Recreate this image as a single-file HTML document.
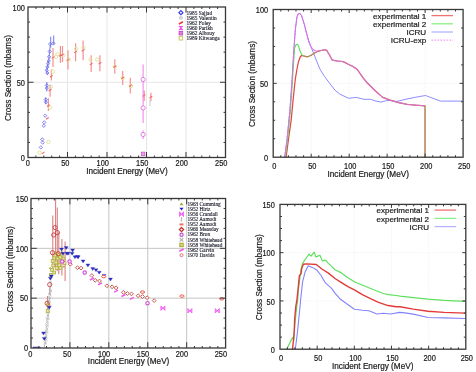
<!DOCTYPE html>
<html><head><meta charset="utf-8"><style>
html,body{margin:0;padding:0;background:#fff;width:476px;height:372px;overflow:hidden}
svg{display:block;filter:blur(0.35px)}
</style></head><body>
<svg width="476" height="372" viewBox="0 0 476 372">
<rect width="476" height="372" fill="#fff"/>
<line x1="67.5" y1="7" x2="67.5" y2="157.5" stroke="#e6e6e6" stroke-width="1"/>
<line x1="107" y1="7" x2="107" y2="157.5" stroke="#e6e6e6" stroke-width="1"/>
<line x1="146.5" y1="7" x2="146.5" y2="157.5" stroke="#e6e6e6" stroke-width="1"/>
<line x1="186" y1="7" x2="186" y2="157.5" stroke="#e6e6e6" stroke-width="1"/>
<line x1="28" y1="82.25" x2="225.5" y2="82.25" stroke="#e6e6e6" stroke-width="1"/>
<line x1="53.0" y1="48.1" x2="53.0" y2="66.9" stroke="#f49090" stroke-width="1.2"/>
<line x1="51.4" y1="69.6" x2="51.4" y2="80.5" stroke="#f49090" stroke-width="1.2"/>
<line x1="60.4" y1="46" x2="60.4" y2="62.9" stroke="#f49090" stroke-width="1.2"/>
<line x1="62.5" y1="46" x2="62.5" y2="62" stroke="#f49090" stroke-width="1.2"/>
<line x1="68" y1="50.3" x2="68" y2="69.6" stroke="#f49090" stroke-width="1.2"/>
<line x1="75.6" y1="43.2" x2="75.6" y2="61.2" stroke="#f49090" stroke-width="1.2"/>
<line x1="83.1" y1="40.5" x2="83.1" y2="60.3" stroke="#f49090" stroke-width="1.2"/>
<line x1="91.2" y1="55.3" x2="91.2" y2="72.1" stroke="#f49090" stroke-width="1.2"/>
<line x1="99.9" y1="55.3" x2="99.9" y2="71.3" stroke="#f49090" stroke-width="1.2"/>
<line x1="114.8" y1="59.3" x2="114.8" y2="73.6" stroke="#f49090" stroke-width="1.2"/>
<line x1="122.7" y1="71.1" x2="122.7" y2="85" stroke="#f49090" stroke-width="1.2"/>
<line x1="130.3" y1="77.8" x2="130.3" y2="93.4" stroke="#f49090" stroke-width="1.2"/>
<line x1="144.2" y1="90.4" x2="144.2" y2="101" stroke="#f49090" stroke-width="1.2"/>
<line x1="150.9" y1="92.8" x2="150.9" y2="101.3" stroke="#f49090" stroke-width="1.2"/>
<line x1="50.1" y1="84.7" x2="50.1" y2="96.8" stroke="#f49090" stroke-width="1.2"/>
<line x1="48.4" y1="98.2" x2="48.4" y2="111" stroke="#f49090" stroke-width="1.2"/>
<line x1="150" y1="99.4" x2="150" y2="106" stroke="#c8c8c8" stroke-width="1"/>
<line x1="143.1" y1="64.4" x2="143.1" y2="122.9" stroke="#f080f0" stroke-width="1.05"/>
<line x1="143.1" y1="130.4" x2="143.1" y2="138.9" stroke="#f080f0" stroke-width="1.05"/>
<circle cx="143.1" cy="79.5" r="2.1" fill="#fff" stroke="#e070e0" stroke-width="0.9"/>
<circle cx="143.1" cy="107.9" r="2.1" fill="#fff" stroke="#e070e0" stroke-width="0.9"/>
<circle cx="143.1" cy="134.5" r="2.1" fill="#fff" stroke="#e070e0" stroke-width="0.9"/>
<rect x="141.3" y="152.1" width="3.6" height="3.6" fill="#f0a0f0" stroke="#c050c0" stroke-width="0.7"/>
<line x1="50.7" y1="36.7" x2="50.7" y2="47.4" stroke="#8080f0" stroke-width="1.1"/>
<line x1="53.7" y1="35.4" x2="53.7" y2="44.8" stroke="#8080f0" stroke-width="1.1"/>
<line x1="46.8" y1="82" x2="46.8" y2="91.5" stroke="#8080f0" stroke-width="1.1"/>
<line x1="45.7" y1="97.5" x2="45.7" y2="104.2" stroke="#8080f0" stroke-width="1.1"/>
<polyline points="47.4,75 46.7,70.3 47.4,66.9 48.1,63.6 48.7,60.9 49.1,56.8 49.7,51.5 50.1,46" fill="none" stroke="#8a8af0" stroke-width="1.1"/>
<path d="M40.8 145.70000000000002l1.6 1.7l-1.6 1.7l-1.6 -1.7z" fill="none" stroke="#6a6ae8" stroke-width="0.8"/>
<path d="M42.3 137.70000000000002l1.6 1.7l-1.6 1.7l-1.6 -1.7z" fill="none" stroke="#6a6ae8" stroke-width="0.8"/>
<path d="M42.7 140.9l1.6 1.7l-1.6 1.7l-1.6 -1.7z" fill="none" stroke="#6a6ae8" stroke-width="0.8"/>
<path d="M43.8 124.1l1.6 1.7l-1.6 1.7l-1.6 -1.7z" fill="none" stroke="#6a6ae8" stroke-width="0.8"/>
<path d="M44.3 120.7l1.6 1.7l-1.6 1.7l-1.6 -1.7z" fill="none" stroke="#6a6ae8" stroke-width="0.8"/>
<path d="M45.2 114.0l1.6 1.7l-1.6 1.7l-1.6 -1.7z" fill="none" stroke="#6a6ae8" stroke-width="0.8"/>
<path d="M45.7 97.8l1.6 1.7l-1.6 1.7l-1.6 -1.7z" fill="none" stroke="#6a6ae8" stroke-width="0.8"/>
<path d="M45.9 100.5l1.6 1.7l-1.6 1.7l-1.6 -1.7z" fill="none" stroke="#6a6ae8" stroke-width="0.8"/>
<path d="M46.8 83.7l1.6 1.7l-1.6 1.7l-1.6 -1.7z" fill="none" stroke="#6a6ae8" stroke-width="0.8"/>
<path d="M46.8 86.39999999999999l1.6 1.7l-1.6 1.7l-1.6 -1.7z" fill="none" stroke="#6a6ae8" stroke-width="0.8"/>
<path d="M47.4 71.3l1.6 1.7l-1.6 1.7l-1.6 -1.7z" fill="none" stroke="#6a6ae8" stroke-width="0.8"/>
<path d="M46.7 68.6l1.6 1.7l-1.6 1.7l-1.6 -1.7z" fill="none" stroke="#6a6ae8" stroke-width="0.8"/>
<path d="M47.4 65.2l1.6 1.7l-1.6 1.7l-1.6 -1.7z" fill="none" stroke="#6a6ae8" stroke-width="0.8"/>
<path d="M48.1 61.9l1.6 1.7l-1.6 1.7l-1.6 -1.7z" fill="none" stroke="#6a6ae8" stroke-width="0.8"/>
<path d="M48.7 59.199999999999996l1.6 1.7l-1.6 1.7l-1.6 -1.7z" fill="none" stroke="#6a6ae8" stroke-width="0.8"/>
<path d="M49.1 55.099999999999994l1.6 1.7l-1.6 1.7l-1.6 -1.7z" fill="none" stroke="#6a6ae8" stroke-width="0.8"/>
<path d="M49.7 49.8l1.6 1.7l-1.6 1.7l-1.6 -1.7z" fill="none" stroke="#6a6ae8" stroke-width="0.8"/>
<path d="M50.1 42.4l1.6 1.7l-1.6 1.7l-1.6 -1.7z" fill="none" stroke="#6a6ae8" stroke-width="0.8"/>
<path d="M53.4 41.699999999999996l1.6 1.7l-1.6 1.7l-1.6 -1.7z" fill="none" stroke="#6a6ae8" stroke-width="0.8"/>
<circle cx="52.8" cy="71.6" r="1.7" fill="none" stroke="#e0e09a" stroke-width="0.9"/>
<circle cx="56.1" cy="56.8" r="1.7" fill="none" stroke="#e0e09a" stroke-width="0.9"/>
<circle cx="57.6" cy="54.3" r="1.7" fill="none" stroke="#e0e09a" stroke-width="0.9"/>
<circle cx="63.3" cy="55.3" r="1.7" fill="none" stroke="#e0e09a" stroke-width="0.9"/>
<circle cx="68.8" cy="59.5" r="1.7" fill="none" stroke="#e0e09a" stroke-width="0.9"/>
<circle cx="76.2" cy="48.9" r="1.7" fill="none" stroke="#e0e09a" stroke-width="0.9"/>
<circle cx="83.5" cy="47.7" r="1.7" fill="none" stroke="#e0e09a" stroke-width="0.9"/>
<circle cx="90.5" cy="59.5" r="1.7" fill="none" stroke="#e0e09a" stroke-width="0.9"/>
<circle cx="97.2" cy="59.5" r="1.7" fill="none" stroke="#e0e09a" stroke-width="0.9"/>
<circle cx="114.8" cy="66.6" r="1.7" fill="none" stroke="#e0e09a" stroke-width="0.9"/>
<circle cx="122.7" cy="77.8" r="1.7" fill="none" stroke="#e0e09a" stroke-width="0.9"/>
<circle cx="131" cy="86" r="1.7" fill="none" stroke="#e0e09a" stroke-width="0.9"/>
<circle cx="50.8" cy="86.7" r="1.7" fill="none" stroke="#e0e09a" stroke-width="0.9"/>
<circle cx="50.1" cy="107.6" r="1.7" fill="none" stroke="#e0e09a" stroke-width="0.9"/>
<circle cx="48.4" cy="142" r="1.7" fill="none" stroke="#e0e09a" stroke-width="0.9"/>
<circle cx="39.6" cy="152.5" r="1.7" fill="none" stroke="#e0e09a" stroke-width="0.9"/>
<path d="M51.6 58.4L54.4 56.6" stroke="#f06a6a" stroke-width="1.1"/>
<path d="M50.0 77.2L52.8 75.39999999999999" stroke="#f06a6a" stroke-width="1.1"/>
<path d="M59.0 56.199999999999996L61.8 54.4" stroke="#f06a6a" stroke-width="1.1"/>
<path d="M61.1 55.9L63.9 54.1" stroke="#f06a6a" stroke-width="1.1"/>
<path d="M66.6 60.699999999999996L69.4 58.9" stroke="#f06a6a" stroke-width="1.1"/>
<path d="M74.19999999999999 52.9L77.0 51.1" stroke="#f06a6a" stroke-width="1.1"/>
<path d="M81.69999999999999 51.199999999999996L84.5 49.4" stroke="#f06a6a" stroke-width="1.1"/>
<path d="M89.8 64.9L92.60000000000001 63.1" stroke="#f06a6a" stroke-width="1.1"/>
<path d="M98.5 64.10000000000001L101.30000000000001 62.300000000000004" stroke="#f06a6a" stroke-width="1.1"/>
<path d="M113.39999999999999 67.5L116.2 65.69999999999999" stroke="#f06a6a" stroke-width="1.1"/>
<path d="M121.3 78.7L124.10000000000001 76.89999999999999" stroke="#f06a6a" stroke-width="1.1"/>
<path d="M128.9 86.60000000000001L131.70000000000002 84.8" stroke="#f06a6a" stroke-width="1.1"/>
<path d="M142.6 96.4L145.4 94.6" stroke="#f06a6a" stroke-width="1.1"/>
<path d="M149.5 98.0L152.3 96.19999999999999" stroke="#f06a6a" stroke-width="1.1"/>
<path d="M48.7 91.0L51.5 89.19999999999999" stroke="#f06a6a" stroke-width="1.1"/>
<path d="M47.0 106.5L49.8 104.69999999999999" stroke="#f06a6a" stroke-width="1.1"/>
<path d="M46.0 119.30000000000001L48.8 117.5" stroke="#f06a6a" stroke-width="1.1"/>
<path d="M41.800000000000004 153.70000000000002L44.6 151.9" stroke="#f06a6a" stroke-width="1.1"/>
<path d="M180.9 10.7l2 2l-2 2l-2 -2z" fill="none" stroke="#3a3ae0" stroke-width="1.2"/>
<text x="186.6" y="14.5" font-family='"Liberation Serif", serif' font-size="5.4" fill="#1a1a2a" stroke="#1a1a2a" stroke-width="0.12">1985 Sajjad</text>
<circle cx="180.9" cy="17.82" r="1.7" fill="#d4d4d4" stroke="#c8c8c8" stroke-width="0.6"/>
<text x="186.6" y="19.62" font-family='"Liberation Serif", serif' font-size="5.4" fill="#1a1a2a" stroke="#1a1a2a" stroke-width="0.12">1965 Valentin</text>
<path d="M178.9 24.139999999999997L182.9 21.74" stroke="#f03030" stroke-width="1.6"/>
<text x="186.6" y="24.74" font-family='"Liberation Serif", serif' font-size="5.4" fill="#1a1a2a" stroke="#1a1a2a" stroke-width="0.12">1962 Foley</text>
<path d="M178.8 26.36H183.0L178.8 29.759999999999998H183.0z" fill="#f040f0" stroke="#f040f0" stroke-width="0.6"/>
<text x="186.6" y="29.86" font-family='"Liberation Serif", serif' font-size="5.4" fill="#1a1a2a" stroke="#1a1a2a" stroke-width="0.12">1960 Parikh</text>
<rect x="179.1" y="31.38" width="3.6" height="3.6" fill="#e080e0" stroke="#c040c0" stroke-width="0.8"/>
<text x="186.6" y="34.98" font-family='"Liberation Serif", serif' font-size="5.4" fill="#1a1a2a" stroke="#1a1a2a" stroke-width="0.12">1962 Albouy</text>
<rect x="179.20000000000002" y="36.599999999999994" width="3.4" height="3.4" fill="none" stroke="#c8c860" stroke-width="1"/>
<text x="186.6" y="40.1" font-family='"Liberation Serif", serif' font-size="5.4" fill="#1a1a2a" stroke="#1a1a2a" stroke-width="0.12">1989 Kitwanga</text>
<path d="M35.9 157.5v-2M35.9 7v2M43.8 157.5v-2M43.8 7v2M51.7 157.5v-2M51.7 7v2M59.6 157.5v-2M59.6 7v2M67.5 157.5v-5.5M67.5 7v5.5M75.4 157.5v-2M75.4 7v2M83.3 157.5v-2M83.3 7v2M91.2 157.5v-2M91.2 7v2M99.1 157.5v-2M99.1 7v2M107 157.5v-5.5M107 7v5.5M114.9 157.5v-2M114.9 7v2M122.8 157.5v-2M122.8 7v2M130.7 157.5v-2M130.7 7v2M138.6 157.5v-2M138.6 7v2M146.5 157.5v-5.5M146.5 7v5.5M154.4 157.5v-2M154.4 7v2M162.3 157.5v-2M162.3 7v2M170.2 157.5v-2M170.2 7v2M178.1 157.5v-2M178.1 7v2M186 157.5v-5.5M186 7v5.5M193.9 157.5v-2M193.9 7v2M201.8 157.5v-2M201.8 7v2M209.7 157.5v-2M209.7 7v2M217.6 157.5v-2M217.6 7v2M28 142.45h2M225.5 142.45h-2M28 127.4h2M225.5 127.4h-2M28 112.35h2M225.5 112.35h-2M28 97.3h2M225.5 97.3h-2M28 82.25h5.5M225.5 82.25h-5.5M28 67.2h2M225.5 67.2h-2M28 52.15h2M225.5 52.15h-2M28 37.1h2M225.5 37.1h-2M28 22.05h2M225.5 22.05h-2" stroke="#383838" stroke-width="1" fill="none"/>
<rect x="28" y="7" width="197.5" height="150.5" fill="none" stroke="#383838" stroke-width="1.3"/>
<text transform="translate(29.9 166.2) scale(0.88 1)" font-family='"Liberation Sans", sans-serif' font-size="8.4" text-anchor="end" fill="#1a1a1a" stroke="#1a1a1a" stroke-width="0.2">0</text>
<text transform="translate(69.4 166.2) scale(0.88 1)" font-family='"Liberation Sans", sans-serif' font-size="8.4" text-anchor="end" fill="#1a1a1a" stroke="#1a1a1a" stroke-width="0.2">50</text>
<text transform="translate(108.9 166.2) scale(0.88 1)" font-family='"Liberation Sans", sans-serif' font-size="8.4" text-anchor="end" fill="#1a1a1a" stroke="#1a1a1a" stroke-width="0.2">100</text>
<text transform="translate(148.4 166.2) scale(0.88 1)" font-family='"Liberation Sans", sans-serif' font-size="8.4" text-anchor="end" fill="#1a1a1a" stroke="#1a1a1a" stroke-width="0.2">150</text>
<text transform="translate(187.9 166.2) scale(0.88 1)" font-family='"Liberation Sans", sans-serif' font-size="8.4" text-anchor="end" fill="#1a1a1a" stroke="#1a1a1a" stroke-width="0.2">200</text>
<text transform="translate(227.4 166.2) scale(0.88 1)" font-family='"Liberation Sans", sans-serif' font-size="8.4" text-anchor="end" fill="#1a1a1a" stroke="#1a1a1a" stroke-width="0.2">250</text>
<text transform="translate(24.9 161.3) scale(0.88 1)" font-family='"Liberation Sans", sans-serif' font-size="8.4" text-anchor="end" fill="#1a1a1a" stroke="#1a1a1a" stroke-width="0.2">0</text>
<text transform="translate(24.9 86.05) scale(0.88 1)" font-family='"Liberation Sans", sans-serif' font-size="8.4" text-anchor="end" fill="#1a1a1a" stroke="#1a1a1a" stroke-width="0.2">50</text>
<text transform="translate(24.9 10.8) scale(0.88 1)" font-family='"Liberation Sans", sans-serif' font-size="8.4" text-anchor="end" fill="#1a1a1a" stroke="#1a1a1a" stroke-width="0.2">100</text>
<text transform="translate(10.8 78) rotate(-90)" font-family='"Liberation Sans", sans-serif' font-size="8.2" text-anchor="middle" fill="#1a1a1a" stroke="#1a1a1a" stroke-width="0.2">Cross Section (mbarns)</text>
<text x="127" y="173.7" font-family='"Liberation Sans", sans-serif' font-size="8.2" text-anchor="middle" fill="#1a1a1a" stroke="#1a1a1a" stroke-width="0.2">Incident Energy (MeV)</text>
<line x1="311.18" y1="9.5" x2="311.18" y2="157.2" stroke="#ebebeb" stroke-width="0.8" stroke-dasharray="1,1.5"/>
<line x1="349.16" y1="9.5" x2="349.16" y2="157.2" stroke="#ebebeb" stroke-width="0.8" stroke-dasharray="1,1.5"/>
<line x1="387.14" y1="9.5" x2="387.14" y2="157.2" stroke="#ebebeb" stroke-width="0.8" stroke-dasharray="1,1.5"/>
<line x1="425.12" y1="9.5" x2="425.12" y2="157.2" stroke="#ebebeb" stroke-width="0.8" stroke-dasharray="1,1.5"/>
<line x1="273.2" y1="83.35" x2="463.1" y2="83.35" stroke="#ebebeb" stroke-width="0.8" stroke-dasharray="1,1.5"/>
<polyline points="284.7,157.2 287,139.7 289.8,111.5 292.1,80 293.7,52 295.3,30 296.9,17 298.4,13.6 300,13.5 301.5,15.5 304.2,24 306.5,33 308.5,40 311.5,48.1 314.7,56.1 317.9,64.2 320.3,69.8 324.4,76.3 329.2,82.7 334.8,90 339.7,94 345,96.6 348.8,98.3 352.5,97.8 356.3,97.4 363.9,99.3 370.5,99.3 375,100.8 380.8,102.1 386.5,100.6 390,100.5 396.5,101.5 405,99.4 415.8,97.2 425.5,95.5 440.5,101.1 462,101.1" fill="none" stroke="#8c8cff" stroke-width="1.0" stroke-linejoin="round" stroke-linecap="round"/>
<polyline points="286.1,157.2 288.4,139.7 291.2,120 293.5,96 295.2,80 296.8,70 298.4,62 300.2,57 301.8,55.3 304.5,56.2 307.4,56.8 309.5,56 311.5,55.1 314.7,52.9 317.9,51.3 321.1,50.5 325.2,49.6 326.8,50.5 329.2,54.5 332.4,60.2 337.3,61 343.2,61.6 348.8,64.5 353,66.5 357.3,69.5 362.9,77.6 367.6,83.3 375.2,90.8 382.7,97.4 390.2,100.2 398.6,102.6 407.2,104.3 415.8,105.2 425,105.8 425,157.2" fill="none" stroke="#e44444" stroke-width="1.25" stroke-linejoin="round" stroke-linecap="round"/>
<polyline points="285.3,157.2 287.6,139 290.3,112 292.4,82 293.6,62 294.6,48 296.2,44.5 297.5,44.3 298.7,46.5 300.2,51.6 301.8,54.6 303.2,55.6" fill="none" stroke="#62e062" stroke-width="1.15" stroke-linejoin="round" stroke-linecap="round"/>
<polyline points="303.2,55.6 307.4,56.8 309.5,56 311.5,55.1 314.7,52.9 317.9,51.3 321.1,50.5 325.2,49.6 326.8,50.5 329.2,54.5 332.4,60.2 337.3,61 343.2,61.6 348.8,64.5 353,66.5 357.3,69.5 362.9,77.6 367.6,83.3 375.2,90.8 382.7,97.4 390.2,100.2 398.6,102.6 407.2,104.3 415.8,105.2 425,105.8 425,157.2" fill="none" stroke="#62e062" stroke-width="1.0" stroke-linejoin="round" stroke-linecap="round" stroke-opacity="0.55"/>
<polyline points="284.7,157.2 287,139.7 289.8,111.5 292.1,80 293.7,52 295.3,30 296.9,17 298.4,13.6 300,13.5 301.5,15.5 304.2,24 306.5,33 308.5,41 310.6,46.2 313,49.4 316.3,51.2 318.7,51 321.1,50.5 325.2,49.6 326.8,50.5 329.2,54.5 332.4,60.2 337.3,61 343.2,61.6 348.8,64.5 353,66.5 357.3,69.5 362.9,77.6 367.6,83.3 375.2,90.8 382.7,97.4 390.2,100.2 398.6,102.6 407.2,104.3 415.8,105.2 425,105.8" fill="none" stroke="#e866e4" stroke-width="1.05" stroke-linejoin="round" stroke-linecap="round" stroke-dasharray="2,1.3"/>
<text x="426.2" y="18.7" font-family='"Liberation Sans", sans-serif' font-size="8.1" text-anchor="end" fill="#1a1a1a" stroke="#1a1a1a" stroke-width="0.2">experimental 1</text>
<line x1="431.5" y1="15.6" x2="453" y2="15.6" stroke="#f07070" stroke-width="1.3"/>
<text x="426.2" y="26.9" font-family='"Liberation Sans", sans-serif' font-size="8.1" text-anchor="end" fill="#1a1a1a" stroke="#1a1a1a" stroke-width="0.2">experimental 2</text>
<line x1="431.5" y1="23.8" x2="453" y2="23.8" stroke="#88f088" stroke-width="1.3"/>
<text x="426.2" y="35.1" font-family='"Liberation Sans", sans-serif' font-size="8.1" text-anchor="end" fill="#1a1a1a" stroke="#1a1a1a" stroke-width="0.2">ICRU</text>
<line x1="431.5" y1="32.0" x2="453" y2="32.0" stroke="#b4b4ff" stroke-width="1.3"/>
<text x="426.2" y="43.3" font-family='"Liberation Sans", sans-serif' font-size="8.1" text-anchor="end" fill="#1a1a1a" stroke="#1a1a1a" stroke-width="0.2">ICRU-exp</text>
<line x1="431.5" y1="40.2" x2="453" y2="40.2" stroke="#f0a0f0" stroke-width="1.3" stroke-dasharray="1.6,1.4"/>
<path d="M280.8 157.2v-2M280.8 9.5v2M288.39 157.2v-2M288.39 9.5v2M295.99 157.2v-2M295.99 9.5v2M303.58 157.2v-2M303.58 9.5v2M311.18 157.2v-3.5M311.18 9.5v3.5M318.78 157.2v-2M318.78 9.5v2M326.37 157.2v-2M326.37 9.5v2M333.97 157.2v-2M333.97 9.5v2M341.56 157.2v-2M341.56 9.5v2M349.16 157.2v-3.5M349.16 9.5v3.5M356.76 157.2v-2M356.76 9.5v2M364.35 157.2v-2M364.35 9.5v2M371.95 157.2v-2M371.95 9.5v2M379.54 157.2v-2M379.54 9.5v2M387.14 157.2v-3.5M387.14 9.5v3.5M394.74 157.2v-2M394.74 9.5v2M402.33 157.2v-2M402.33 9.5v2M409.93 157.2v-2M409.93 9.5v2M417.52 157.2v-2M417.52 9.5v2M425.12 157.2v-3.5M425.12 9.5v3.5M432.72 157.2v-2M432.72 9.5v2M440.31 157.2v-2M440.31 9.5v2M447.91 157.2v-2M447.91 9.5v2M455.5 157.2v-2M455.5 9.5v2M273.2 138.74h2M463.1 138.74h-2M273.2 120.27h2M463.1 120.27h-2M273.2 101.81h2M463.1 101.81h-2M273.2 83.35h3.5M463.1 83.35h-3.5M273.2 64.89h2M463.1 64.89h-2M273.2 46.42h2M463.1 46.42h-2M273.2 27.96h2M463.1 27.96h-2" stroke="#383838" stroke-width="1" fill="none"/>
<rect x="273.2" y="9.5" width="189.9" height="147.7" fill="none" stroke="#383838" stroke-width="1.3"/>
<text transform="translate(274.3 168.9) scale(0.88 1)" font-family='"Liberation Sans", sans-serif' font-size="8.4" text-anchor="middle" fill="#1a1a1a" stroke="#1a1a1a" stroke-width="0.2">0</text>
<text transform="translate(312.28 168.9) scale(0.88 1)" font-family='"Liberation Sans", sans-serif' font-size="8.4" text-anchor="middle" fill="#1a1a1a" stroke="#1a1a1a" stroke-width="0.2">50</text>
<text transform="translate(350.26 168.9) scale(0.88 1)" font-family='"Liberation Sans", sans-serif' font-size="8.4" text-anchor="middle" fill="#1a1a1a" stroke="#1a1a1a" stroke-width="0.2">100</text>
<text transform="translate(388.24 168.9) scale(0.88 1)" font-family='"Liberation Sans", sans-serif' font-size="8.4" text-anchor="middle" fill="#1a1a1a" stroke="#1a1a1a" stroke-width="0.2">150</text>
<text transform="translate(426.22 168.9) scale(0.88 1)" font-family='"Liberation Sans", sans-serif' font-size="8.4" text-anchor="middle" fill="#1a1a1a" stroke="#1a1a1a" stroke-width="0.2">200</text>
<text transform="translate(464.2 168.9) scale(0.88 1)" font-family='"Liberation Sans", sans-serif' font-size="8.4" text-anchor="middle" fill="#1a1a1a" stroke="#1a1a1a" stroke-width="0.2">250</text>
<text transform="translate(268.2 160.5) scale(0.88 1)" font-family='"Liberation Sans", sans-serif' font-size="8.4" text-anchor="end" fill="#1a1a1a" stroke="#1a1a1a" stroke-width="0.2">0</text>
<text transform="translate(268.2 86.65) scale(0.88 1)" font-family='"Liberation Sans", sans-serif' font-size="8.4" text-anchor="end" fill="#1a1a1a" stroke="#1a1a1a" stroke-width="0.2">50</text>
<text transform="translate(268.2 12.8) scale(0.88 1)" font-family='"Liberation Sans", sans-serif' font-size="8.4" text-anchor="end" fill="#1a1a1a" stroke="#1a1a1a" stroke-width="0.2">100</text>
<text transform="translate(255.3 84) rotate(-90)" font-family='"Liberation Sans", sans-serif' font-size="8.2" text-anchor="middle" fill="#1a1a1a" stroke="#1a1a1a" stroke-width="0.2">Cross Section (mbarns)</text>
<text x="368.2" y="176.8" font-family='"Liberation Sans", sans-serif' font-size="8.2" text-anchor="middle" fill="#1a1a1a" stroke="#1a1a1a" stroke-width="0.2">Incident Energy (MeV)</text>
<line x1="69.92" y1="198.5" x2="69.92" y2="348" stroke="#c4c4c4" stroke-width="1"/>
<line x1="108.84" y1="198.5" x2="108.84" y2="348" stroke="#c4c4c4" stroke-width="1"/>
<line x1="147.76" y1="198.5" x2="147.76" y2="348" stroke="#c4c4c4" stroke-width="1"/>
<line x1="186.68" y1="198.5" x2="186.68" y2="348" stroke="#c4c4c4" stroke-width="1"/>
<line x1="31" y1="298.17" x2="225.6" y2="298.17" stroke="#c4c4c4" stroke-width="1"/>
<line x1="31" y1="248.33" x2="225.6" y2="248.33" stroke="#c4c4c4" stroke-width="1"/>
<line x1="52.8" y1="215.5" x2="52.8" y2="270.9" stroke="#d88282" stroke-width="1.1"/>
<line x1="55.6" y1="198.7" x2="55.6" y2="267.6" stroke="#d88282" stroke-width="1.1"/>
<line x1="57.3" y1="207.4" x2="57.3" y2="271" stroke="#d88282" stroke-width="1.1"/>
<line x1="58.8" y1="232" x2="58.8" y2="274.3" stroke="#d88282" stroke-width="1.1"/>
<line x1="61.9" y1="239" x2="61.9" y2="275.6" stroke="#d88282" stroke-width="1.1"/>
<line x1="65.1" y1="241.5" x2="65.1" y2="281" stroke="#d88282" stroke-width="1.1"/>
<line x1="49.8" y1="288.4" x2="49.8" y2="294" stroke="#d88282" stroke-width="1.1"/>
<line x1="47.5" y1="296" x2="47.5" y2="310" stroke="#d88282" stroke-width="1.1"/>
<line x1="44.5" y1="344.4" x2="44.5" y2="347.6" stroke="#b4b4b4" stroke-width="0.9"/>
<path d="M43.59 341.75l2.4 2.4M45.99 341.75l-2.4 2.4" stroke="#b4b4b4" stroke-width="0.8"/>
<line x1="45.07" y1="338.3" x2="45.07" y2="341.5" stroke="#b4b4b4" stroke-width="0.9"/>
<path d="M44.16 335.66l2.4 2.4M46.56 335.66l-2.4 2.4" stroke="#b4b4b4" stroke-width="0.8"/>
<line x1="45.64" y1="332.21" x2="45.64" y2="335.41" stroke="#b4b4b4" stroke-width="0.9"/>
<path d="M44.73 329.56l2.4 2.4M47.13 329.56l-2.4 2.4" stroke="#b4b4b4" stroke-width="0.8"/>
<line x1="46.21" y1="326.11" x2="46.21" y2="329.31" stroke="#b4b4b4" stroke-width="0.9"/>
<path d="M45.3 323.47l2.4 2.4M47.7 323.47l-2.4 2.4" stroke="#b4b4b4" stroke-width="0.8"/>
<line x1="46.79" y1="320.02" x2="46.79" y2="323.22" stroke="#b4b4b4" stroke-width="0.9"/>
<path d="M45.87 317.37l2.4 2.4M48.27 317.37l-2.4 2.4" stroke="#b4b4b4" stroke-width="0.8"/>
<line x1="47.36" y1="313.92" x2="47.36" y2="317.12" stroke="#b4b4b4" stroke-width="0.9"/>
<path d="M46.44 311.28l2.4 2.4M48.84 311.28l-2.4 2.4" stroke="#b4b4b4" stroke-width="0.8"/>
<line x1="47.93" y1="307.83" x2="47.93" y2="311.03" stroke="#b4b4b4" stroke-width="0.9"/>
<path d="M47.01 305.18l2.4 2.4M49.41 305.18l-2.4 2.4" stroke="#b4b4b4" stroke-width="0.8"/>
<line x1="48.5" y1="301.73" x2="48.5" y2="304.93" stroke="#b4b4b4" stroke-width="0.9"/>
<path d="M47.59 299.09l2.4 2.4M49.99 299.09l-2.4 2.4" stroke="#b4b4b4" stroke-width="0.8"/>
<line x1="49.07" y1="295.64" x2="49.07" y2="298.84" stroke="#b4b4b4" stroke-width="0.9"/>
<path d="M48.16 292.99l2.4 2.4M50.56 292.99l-2.4 2.4" stroke="#b4b4b4" stroke-width="0.8"/>
<line x1="49.64" y1="289.54" x2="49.64" y2="292.74" stroke="#b4b4b4" stroke-width="0.9"/>
<path d="M48.73 286.9l2.4 2.4M51.13 286.9l-2.4 2.4" stroke="#b4b4b4" stroke-width="0.8"/>
<line x1="50.21" y1="283.45" x2="50.21" y2="286.65" stroke="#b4b4b4" stroke-width="0.9"/>
<path d="M49.3 280.8l2.4 2.4M51.7 280.8l-2.4 2.4" stroke="#b4b4b4" stroke-width="0.8"/>
<line x1="46" y1="341.4" x2="46" y2="344.6" stroke="#b4b4b4" stroke-width="0.9"/>
<path d="M45.12 338.33l2.4 2.4M47.52 338.33l-2.4 2.4" stroke="#b4b4b4" stroke-width="0.8"/>
<line x1="46.64" y1="334.47" x2="46.64" y2="337.67" stroke="#b4b4b4" stroke-width="0.9"/>
<path d="M45.76 331.4l2.4 2.4M48.16 331.4l-2.4 2.4" stroke="#b4b4b4" stroke-width="0.8"/>
<line x1="47.28" y1="327.53" x2="47.28" y2="330.73" stroke="#b4b4b4" stroke-width="0.9"/>
<path d="M46.4 324.47l2.4 2.4M48.8 324.47l-2.4 2.4" stroke="#b4b4b4" stroke-width="0.8"/>
<line x1="47.92" y1="320.6" x2="47.92" y2="323.8" stroke="#b4b4b4" stroke-width="0.9"/>
<path d="M47.04 317.53l2.4 2.4M49.44 317.53l-2.4 2.4" stroke="#b4b4b4" stroke-width="0.8"/>
<line x1="48.56" y1="313.67" x2="48.56" y2="316.87" stroke="#b4b4b4" stroke-width="0.9"/>
<path d="M47.68 310.6l2.4 2.4M50.08 310.6l-2.4 2.4" stroke="#b4b4b4" stroke-width="0.8"/>
<line x1="49.2" y1="306.73" x2="49.2" y2="309.93" stroke="#b4b4b4" stroke-width="0.9"/>
<path d="M48.32 303.67l2.4 2.4M50.72 303.67l-2.4 2.4" stroke="#b4b4b4" stroke-width="0.8"/>
<line x1="49.84" y1="299.8" x2="49.84" y2="303" stroke="#b4b4b4" stroke-width="0.9"/>
<path d="M48.96 296.73l2.4 2.4M51.36 296.73l-2.4 2.4" stroke="#b4b4b4" stroke-width="0.8"/>
<line x1="50.48" y1="292.87" x2="50.48" y2="296.07" stroke="#b4b4b4" stroke-width="0.9"/>
<path d="M49.6 289.8l2.4 2.4M52 289.8l-2.4 2.4" stroke="#b4b4b4" stroke-width="0.8"/>
<rect x="50.6" y="268.6" width="2.8" height="2.8" fill="#e6e6a8" stroke="#b0b040" stroke-width="0.8"/>
<rect x="51.8" y="264.1" width="2.8" height="2.8" fill="#e6e6a8" stroke="#b0b040" stroke-width="0.8"/>
<rect x="51.2" y="259.6" width="2.8" height="2.8" fill="#e6e6a8" stroke="#b0b040" stroke-width="0.8"/>
<rect x="52.8" y="256.6" width="2.8" height="2.8" fill="#e6e6a8" stroke="#b0b040" stroke-width="0.8"/>
<rect x="54" y="254.1" width="2.8" height="2.8" fill="#e6e6a8" stroke="#b0b040" stroke-width="0.8"/>
<rect x="54.8" y="261.1" width="2.8" height="2.8" fill="#e6e6a8" stroke="#b0b040" stroke-width="0.8"/>
<rect x="56.2" y="257.1" width="2.8" height="2.8" fill="#e6e6a8" stroke="#b0b040" stroke-width="0.8"/>
<rect x="57.4" y="253.6" width="2.8" height="2.8" fill="#e6e6a8" stroke="#b0b040" stroke-width="0.8"/>
<rect x="58.9" y="255.6" width="2.8" height="2.8" fill="#e6e6a8" stroke="#b0b040" stroke-width="0.8"/>
<rect x="59.9" y="259.6" width="2.8" height="2.8" fill="#e6e6a8" stroke="#b0b040" stroke-width="0.8"/>
<rect x="61" y="253.4" width="2.8" height="2.8" fill="#e6e6a8" stroke="#b0b040" stroke-width="0.8"/>
<rect x="62" y="257.4" width="2.8" height="2.8" fill="#e6e6a8" stroke="#b0b040" stroke-width="0.8"/>
<rect x="63.2" y="261.6" width="2.8" height="2.8" fill="#e6e6a8" stroke="#b0b040" stroke-width="0.8"/>
<rect x="57.8" y="263.6" width="2.8" height="2.8" fill="#e6e6a8" stroke="#b0b040" stroke-width="0.8"/>
<rect x="55.2" y="266.6" width="2.8" height="2.8" fill="#e6e6a8" stroke="#b0b040" stroke-width="0.8"/>
<rect x="52.8" y="271.1" width="2.8" height="2.8" fill="#e6e6a8" stroke="#b0b040" stroke-width="0.8"/>
<rect x="49.4" y="273.6" width="2.8" height="2.8" fill="#e6e6a8" stroke="#b0b040" stroke-width="0.8"/>
<rect x="46.2" y="309.6" width="2.8" height="2.8" fill="#e6e6a8" stroke="#b0b040" stroke-width="0.8"/>
<rect x="46.8" y="303.6" width="2.8" height="2.8" fill="#e6e6a8" stroke="#b0b040" stroke-width="0.8"/>
<rect x="59" y="266.6" width="2.8" height="2.8" fill="#e6e6a8" stroke="#b0b040" stroke-width="0.8"/>
<path d="M48.6 269.1h3.2l-1.6 -2.4z" fill="#b4b440"/>
<path d="M53.4 253.6h3.2l-1.6 -2.4z" fill="#b4b440"/>
<path d="M60 252.6h3.2l-1.6 -2.4z" fill="#b4b440"/>
<path d="M55.9 265.1h3.2l-1.6 -2.4z" fill="#b4b440"/>
<path d="M62.2 267.6h3.2l-1.6 -2.4z" fill="#b4b440"/>
<path d="M41.5 332h4l-2 3z" fill="#2a2abf" stroke="#2a2abf" stroke-width="0.3"/>
<path d="M42.3 337.4h4l-2 3z" fill="#2a2abf" stroke="#2a2abf" stroke-width="0.3"/>
<path d="M47.3 306.2h4l-2 3z" fill="#2a2abf" stroke="#2a2abf" stroke-width="0.3"/>
<path d="M48.4 277.2h4l-2 3z" fill="#2a2abf" stroke="#2a2abf" stroke-width="0.3"/>
<path d="M49.4 274.9h4l-2 3z" fill="#2a2abf" stroke="#2a2abf" stroke-width="0.3"/>
<path d="M59.5 248h4l-2 3z" fill="#2a2abf" stroke="#2a2abf" stroke-width="0.3"/>
<path d="M64.2 246.6h4l-2 3z" fill="#2a2abf" stroke="#2a2abf" stroke-width="0.3"/>
<path d="M60.9 252.3h4l-2 3z" fill="#2a2abf" stroke="#2a2abf" stroke-width="0.3"/>
<path d="M64.9 252.3h4l-2 3z" fill="#2a2abf" stroke="#2a2abf" stroke-width="0.3"/>
<path d="M70.6 249h4l-2 3z" fill="#2a2abf" stroke="#2a2abf" stroke-width="0.3"/>
<path d="M66.1 252.2h4l-2 3z" fill="#2a2abf" stroke="#2a2abf" stroke-width="0.3"/>
<path d="M70.1 252.2h4l-2 3z" fill="#2a2abf" stroke="#2a2abf" stroke-width="0.3"/>
<path d="M73 255.8h4l-2 3z" fill="#2a2abf" stroke="#2a2abf" stroke-width="0.3"/>
<path d="M76.2 255.8h4l-2 3z" fill="#2a2abf" stroke="#2a2abf" stroke-width="0.3"/>
<path d="M75.4 255.4h4l-2 3z" fill="#2a2abf" stroke="#2a2abf" stroke-width="0.3"/>
<path d="M81.1 259.9h4l-2 3z" fill="#2a2abf" stroke="#2a2abf" stroke-width="0.3"/>
<path d="M85.9 263.9h4l-2 3z" fill="#2a2abf" stroke="#2a2abf" stroke-width="0.3"/>
<path d="M90.7 267.6h4l-2 3z" fill="#2a2abf" stroke="#2a2abf" stroke-width="0.3"/>
<path d="M94 268.8h4l-2 3z" fill="#2a2abf" stroke="#2a2abf" stroke-width="0.3"/>
<path d="M97.2 271.2h4l-2 3z" fill="#2a2abf" stroke="#2a2abf" stroke-width="0.3"/>
<path d="M102 274.4h4l-2 3z" fill="#2a2abf" stroke="#2a2abf" stroke-width="0.3"/>
<path d="M108.5 278h4l-2 3z" fill="#2a2abf" stroke="#2a2abf" stroke-width="0.3"/>
<path d="M33 347.3h7.5" stroke="#3030c0" stroke-width="1.1"/>
<path d="M70.3 262.3l1.9 1.9l-1.9 1.9l-1.9 -1.9z" fill="#fff" stroke="#c0483e" stroke-width="0.9"/>
<path d="M77.4 265.8l1.9 1.9l-1.9 1.9l-1.9 -1.9z" fill="#fff" stroke="#c0483e" stroke-width="0.9"/>
<path d="M81.1 266.2l1.9 1.9l-1.9 1.9l-1.9 -1.9z" fill="#fff" stroke="#c0483e" stroke-width="0.9"/>
<path d="M91.9 273.6l1.9 1.9l-1.9 1.9l-1.9 -1.9z" fill="#fff" stroke="#c0483e" stroke-width="0.9"/>
<path d="M95.2 278.4l1.9 1.9l-1.9 1.9l-1.9 -1.9z" fill="#fff" stroke="#c0483e" stroke-width="0.9"/>
<path d="M99.5 279.1l1.9 1.9l-1.9 1.9l-1.9 -1.9z" fill="#fff" stroke="#c0483e" stroke-width="0.9"/>
<path d="M106.9 283.9l1.9 1.9l-1.9 1.9l-1.9 -1.9z" fill="#fff" stroke="#c0483e" stroke-width="0.9"/>
<path d="M112.1 284.9l1.9 1.9l-1.9 1.9l-1.9 -1.9z" fill="#fff" stroke="#c0483e" stroke-width="0.9"/>
<path d="M116.1 286l1.9 1.9l-1.9 1.9l-1.9 -1.9z" fill="#fff" stroke="#c0483e" stroke-width="0.9"/>
<path d="M123.4 290.4l1.9 1.9l-1.9 1.9l-1.9 -1.9z" fill="#fff" stroke="#c0483e" stroke-width="0.9"/>
<path d="M127.4 291.6l1.9 1.9l-1.9 1.9l-1.9 -1.9z" fill="#fff" stroke="#c0483e" stroke-width="0.9"/>
<path d="M131.5 292l1.9 1.9l-1.9 1.9l-1.9 -1.9z" fill="#fff" stroke="#c0483e" stroke-width="0.9"/>
<path d="M138.1 293.8l1.9 1.9l-1.9 1.9l-1.9 -1.9z" fill="#fff" stroke="#c0483e" stroke-width="0.9"/>
<path d="M142.5 294.6l1.9 1.9l-1.9 1.9l-1.9 -1.9z" fill="#fff" stroke="#c0483e" stroke-width="0.9"/>
<path d="M147.1 295.8l1.9 1.9l-1.9 1.9l-1.9 -1.9z" fill="#fff" stroke="#c0483e" stroke-width="0.9"/>
<path d="M154.2 298.7l1.9 1.9l-1.9 1.9l-1.9 -1.9z" fill="#fff" stroke="#c0483e" stroke-width="0.9"/>
<path d="M89.9 280L93.9 278" stroke="#ee55ee" stroke-width="1.4"/>
<path d="M98 284.9L102 282.9" stroke="#ee55ee" stroke-width="1.4"/>
<path d="M114.1 292.1L118.1 290.1" stroke="#ee55ee" stroke-width="1.4"/>
<path d="M121.4 296.5L125.4 294.5" stroke="#ee55ee" stroke-width="1.4"/>
<path d="M129.8 299.4L133.8 297.4" stroke="#ee55ee" stroke-width="1.4"/>
<circle cx="147.5" cy="303.2" r="1.7" fill="#fff" stroke="#d455d4" stroke-width="1.2"/>
<circle cx="84.7" cy="272.6" r="1.7" fill="#fff" stroke="#d455d4" stroke-width="1.2"/>
<circle cx="69.6" cy="261.5" r="1.7" fill="#fff" stroke="#d455d4" stroke-width="1.2"/>
<circle cx="62.2" cy="261.5" r="1.7" fill="#fff" stroke="#d455d4" stroke-width="1.2"/>
<path d="M160.9 306L164.9 310.4V306L160.9 310.4z" fill="#f8a0f8" stroke="#f050f0" stroke-width="0.8"/>
<path d="M187.9 308.6L191.9 313V308.6L187.9 313z" fill="#f8a0f8" stroke="#f050f0" stroke-width="0.8"/>
<path d="M215.3 308.6L219.3 313V308.6L215.3 313z" fill="#f8a0f8" stroke="#f050f0" stroke-width="0.8"/>
<ellipse cx="103.7" cy="276.6" rx="2.1" ry="1.2" fill="#fff" stroke="#ec5a48" stroke-width="1"/>
<ellipse cx="142.5" cy="292.1" rx="2.1" ry="1.2" fill="#fff" stroke="#ec5a48" stroke-width="1"/>
<ellipse cx="182" cy="296.1" rx="2.1" ry="1.2" fill="#fff" stroke="#ec5a48" stroke-width="1"/>
<ellipse cx="221.7" cy="298.8" rx="2.1" ry="1.2" fill="#fff" stroke="#ec5a48" stroke-width="1"/>
<circle cx="55.1" cy="227.6" r="2.1" fill="none" stroke="#c84040" stroke-width="0.9"/>
<circle cx="57.4" cy="232.6" r="2.1" fill="none" stroke="#c84040" stroke-width="0.9"/>
<circle cx="53.7" cy="235" r="2.1" fill="none" stroke="#c84040" stroke-width="0.9"/>
<circle cx="52.5" cy="252.7" r="2.1" fill="none" stroke="#c84040" stroke-width="0.9"/>
<circle cx="58.2" cy="253.7" r="2.1" fill="none" stroke="#c84040" stroke-width="0.9"/>
<circle cx="49.7" cy="284.6" r="2.1" fill="none" stroke="#c84040" stroke-width="0.9"/>
<circle cx="47.1" cy="303.3" r="2.1" fill="none" stroke="#c84040" stroke-width="0.9"/>
<path d="M179.4 205.20000000000002h4.2l-2.1 -2.7z" fill="#a8a830"/>
<text x="187.6" y="205.7" font-family='"Liberation Serif", serif' font-size="5.3" fill="#1a1a2a" stroke="#1a1a2a" stroke-width="0.12">1963 Cumming</text>
<path d="M179.4 207.73h4.2l-2.1 2.7z" fill="#2020c0"/>
<text x="187.6" y="210.83" font-family='"Liberation Serif", serif' font-size="5.3" fill="#1a1a2a" stroke="#1a1a2a" stroke-width="0.12">1952 Hirtz</text>
<path d="M179.5 211.76L183.5 216.56V211.76L179.5 216.56z" fill="#f070f0" stroke="#f050f0" stroke-width="0.7"/>
<text x="187.6" y="215.96" font-family='"Liberation Serif", serif' font-size="5.3" fill="#1a1a2a" stroke="#1a1a2a" stroke-width="0.12">1956 Crandall</text>
<line x1="181.5" y1="217.09" x2="181.5" y2="221.48999999999998" stroke="#b8b8b8" stroke-width="1.3"/>
<text x="187.6" y="221.09" font-family='"Liberation Serif", serif' font-size="5.3" fill="#1a1a2a" stroke="#1a1a2a" stroke-width="0.12">1952 Aamodt</text>
<rect x="179.5" y="223.42" width="4" height="2" fill="#f07060"/>
<text x="187.6" y="226.22" font-family='"Liberation Serif", serif' font-size="5.3" fill="#1a1a2a" stroke="#1a1a2a" stroke-width="0.12">1952 Aamodt</text>
<path d="M181.5 227.45000000000002l2.1 2.1l-2.1 2.1l-2.1 -2.1z" fill="#fff" stroke="#c03a30" stroke-width="1.3"/>
<text x="187.6" y="231.35" font-family='"Liberation Serif", serif' font-size="5.3" fill="#1a1a2a" stroke="#1a1a2a" stroke-width="0.12">1966 Measday</text>
<circle cx="181.5" cy="234.68" r="1.6" fill="#fff" stroke="#c050c8" stroke-width="1.2"/>
<text x="187.6" y="236.48" font-family='"Liberation Serif", serif' font-size="5.3" fill="#1a1a2a" stroke="#1a1a2a" stroke-width="0.12">1962 Bron</text>
<path d="M179.7 238.01l3.6 3.6M183.3 238.01l-3.6 3.6" stroke="#b0b0b0" stroke-width="1.1"/>
<text x="187.6" y="241.61" font-family='"Liberation Serif", serif' font-size="5.3" fill="#1a1a2a" stroke="#1a1a2a" stroke-width="0.12">1958 Whitehead</text>
<rect x="179.8" y="243.24" width="3.4" height="3.4" fill="#d8d880" stroke="#a8a828" stroke-width="1"/>
<text x="187.6" y="246.74" font-family='"Liberation Serif", serif' font-size="5.3" fill="#1a1a2a" stroke="#1a1a2a" stroke-width="0.12">1958 Whitehead</text>
<path d="M179.3 251.17L183.7 248.97" stroke="#f050f0" stroke-width="1.6"/>
<text x="187.6" y="251.87" font-family='"Liberation Serif", serif' font-size="5.3" fill="#1a1a2a" stroke="#1a1a2a" stroke-width="0.12">1962 Garvin</text>
<circle cx="181.5" cy="255.2" r="1.5" fill="#fff" stroke="#e06060" stroke-width="0.9"/>
<text x="187.6" y="257" font-family='"Liberation Serif", serif' font-size="5.3" fill="#1a1a2a" stroke="#1a1a2a" stroke-width="0.12">1970 Davids</text>
<path d="M38.78 348v-2M38.78 198.5v2M46.57 348v-2M46.57 198.5v2M54.35 348v-2M54.35 198.5v2M62.14 348v-2M62.14 198.5v2M69.92 348v-5.8M69.92 198.5v5.8M77.7 348v-2M77.7 198.5v2M85.49 348v-2M85.49 198.5v2M93.27 348v-2M93.27 198.5v2M101.06 348v-2M101.06 198.5v2M108.84 348v-5.8M108.84 198.5v5.8M116.62 348v-2M116.62 198.5v2M124.41 348v-2M124.41 198.5v2M132.19 348v-2M132.19 198.5v2M139.98 348v-2M139.98 198.5v2M147.76 348v-5.8M147.76 198.5v5.8M155.54 348v-2M155.54 198.5v2M163.33 348v-2M163.33 198.5v2M171.11 348v-2M171.11 198.5v2M178.9 348v-2M178.9 198.5v2M186.68 348v-5.8M186.68 198.5v5.8M194.46 348v-2M194.46 198.5v2M202.25 348v-2M202.25 198.5v2M210.03 348v-2M210.03 198.5v2M217.82 348v-2M217.82 198.5v2M31 338.03h2M225.6 338.03h-2M31 328.07h2M225.6 328.07h-2M31 318.1h2M225.6 318.1h-2M31 308.13h2M225.6 308.13h-2M31 298.17h5.8M225.6 298.17h-5.8M31 288.2h2M225.6 288.2h-2M31 278.23h2M225.6 278.23h-2M31 268.27h2M225.6 268.27h-2M31 258.3h2M225.6 258.3h-2M31 248.33h5.8M225.6 248.33h-5.8M31 238.37h2M225.6 238.37h-2M31 228.4h2M225.6 228.4h-2M31 218.43h2M225.6 218.43h-2M31 208.47h2M225.6 208.47h-2" stroke="#383838" stroke-width="1" fill="none"/>
<rect x="31" y="198.5" width="194.6" height="149.5" fill="none" stroke="#383838" stroke-width="1.3"/>
<text transform="translate(32.4 356.9) scale(0.88 1)" font-family='"Liberation Sans", sans-serif' font-size="8.4" text-anchor="end" fill="#1a1a1a" stroke="#1a1a1a" stroke-width="0.2">0</text>
<text transform="translate(71.32 356.9) scale(0.88 1)" font-family='"Liberation Sans", sans-serif' font-size="8.4" text-anchor="end" fill="#1a1a1a" stroke="#1a1a1a" stroke-width="0.2">50</text>
<text transform="translate(110.24 356.9) scale(0.88 1)" font-family='"Liberation Sans", sans-serif' font-size="8.4" text-anchor="end" fill="#1a1a1a" stroke="#1a1a1a" stroke-width="0.2">100</text>
<text transform="translate(149.16 356.9) scale(0.88 1)" font-family='"Liberation Sans", sans-serif' font-size="8.4" text-anchor="end" fill="#1a1a1a" stroke="#1a1a1a" stroke-width="0.2">150</text>
<text transform="translate(188.08 356.9) scale(0.88 1)" font-family='"Liberation Sans", sans-serif' font-size="8.4" text-anchor="end" fill="#1a1a1a" stroke="#1a1a1a" stroke-width="0.2">200</text>
<text transform="translate(227 356.9) scale(0.88 1)" font-family='"Liberation Sans", sans-serif' font-size="8.4" text-anchor="end" fill="#1a1a1a" stroke="#1a1a1a" stroke-width="0.2">250</text>
<text transform="translate(28.2 351.2) scale(0.88 1)" font-family='"Liberation Sans", sans-serif' font-size="8.4" text-anchor="end" fill="#1a1a1a" stroke="#1a1a1a" stroke-width="0.2">0</text>
<text transform="translate(28.2 301.37) scale(0.88 1)" font-family='"Liberation Sans", sans-serif' font-size="8.4" text-anchor="end" fill="#1a1a1a" stroke="#1a1a1a" stroke-width="0.2">50</text>
<text transform="translate(28.2 251.53) scale(0.88 1)" font-family='"Liberation Sans", sans-serif' font-size="8.4" text-anchor="end" fill="#1a1a1a" stroke="#1a1a1a" stroke-width="0.2">100</text>
<text transform="translate(28.2 201.7) scale(0.88 1)" font-family='"Liberation Sans", sans-serif' font-size="8.4" text-anchor="end" fill="#1a1a1a" stroke="#1a1a1a" stroke-width="0.2">150</text>
<text transform="translate(13 269.2) rotate(-90)" font-family='"Liberation Sans", sans-serif' font-size="8.2" text-anchor="middle" fill="#1a1a1a" stroke="#1a1a1a" stroke-width="0.2">Cross Section (mbarns)</text>
<text x="128.6" y="364.2" font-family='"Liberation Sans", sans-serif' font-size="8.2" text-anchor="middle" fill="#1a1a1a" stroke="#1a1a1a" stroke-width="0.2">Incident Energy (MeV)</text>
<line x1="317.16" y1="204.4" x2="317.16" y2="349.2" stroke="#ebebeb" stroke-width="0.8" stroke-dasharray="1,1.5"/>
<line x1="354.32" y1="204.4" x2="354.32" y2="349.2" stroke="#ebebeb" stroke-width="0.8" stroke-dasharray="1,1.5"/>
<line x1="391.48" y1="204.4" x2="391.48" y2="349.2" stroke="#ebebeb" stroke-width="0.8" stroke-dasharray="1,1.5"/>
<line x1="428.64" y1="204.4" x2="428.64" y2="349.2" stroke="#ebebeb" stroke-width="0.8" stroke-dasharray="1,1.5"/>
<line x1="280" y1="300.93" x2="465.8" y2="300.93" stroke="#ebebeb" stroke-width="0.8" stroke-dasharray="1,1.5"/>
<line x1="280" y1="252.67" x2="465.8" y2="252.67" stroke="#ebebeb" stroke-width="0.8" stroke-dasharray="1,1.5"/>
<polyline points="295.3,349.2 297.5,331.7 299.2,315 300.6,300 302.6,281.9 305,272.3 308.2,265.8 312.3,267.4 317.1,270.3 321.1,275.5 325.2,282.7 331.6,288.4 335,293.1 339.8,298.7 346.3,303.5 354.4,309.2 362.4,310.3 368.9,310.8 376.9,314 383.4,313.2 390.6,314 399.5,312.4 405,312.9 413.2,314.1 428,317.5 444.1,317.9 465,318.5" fill="none" stroke="#8484fa" stroke-width="1.1" stroke-linejoin="round" stroke-linecap="round"/>
<polyline points="286.7,349.2 292.5,337.5 293.7,340 295,323.3 296.7,306.7 297.7,300 298.3,290 299.4,281.9 301,269 302.6,263.4 305.8,258.5 309,254.2 311,256.1 314.2,252.1 315.8,256.9 317.9,256.1 320,255.3 322.3,261 325.5,260.2 328.4,263.4 331.3,266.1 335,269.7 341.5,272.9 347.9,277.7 355.2,282.3 364,285.8 373.7,289.8 383.4,293.5 388.2,294.7 396.3,295.5 400,296.2 413.2,297.6 428,299.1 444.1,300.3 465,301.3" fill="none" stroke="#5ee05e" stroke-width="1.2" stroke-linejoin="round" stroke-linecap="round"/>
<polyline points="292.5,349.2 293.5,340 294.2,331.7 294.7,318.3 295.8,306.7 296.9,300 298,290 299.4,275.5 301,273.9 301.8,268.2 303.4,264.2 306.6,263.9 316.3,264.5 321.9,269 328.4,273.1 335,278.5 341.5,282.6 347.9,286.6 354.4,289.8 362.4,294.7 370.5,298.7 378.5,302.3 386.6,305.2 396.3,306.8 400,306.8 413.2,309.1 428,311.3 444.1,312.4 465,313.1" fill="none" stroke="#e23a3a" stroke-width="1.4" stroke-linejoin="round" stroke-linecap="round"/>
<text x="429" y="213.2" font-family='"Liberation Sans", sans-serif' font-size="8.0" text-anchor="end" fill="#1a1a1a" stroke="#1a1a1a" stroke-width="0.2">experimental 1</text>
<line x1="434.6" y1="210.1" x2="456.1" y2="210.1" stroke="#f07070" stroke-width="1.3"/>
<text x="429" y="221.5" font-family='"Liberation Sans", sans-serif' font-size="8.0" text-anchor="end" fill="#1a1a1a" stroke="#1a1a1a" stroke-width="0.2">experimental 2</text>
<line x1="434.6" y1="218.4" x2="456.1" y2="218.4" stroke="#88f088" stroke-width="1.3"/>
<text x="429" y="229.7" font-family='"Liberation Sans", sans-serif' font-size="8.0" text-anchor="end" fill="#1a1a1a" stroke="#1a1a1a" stroke-width="0.2">ICRU</text>
<line x1="434.6" y1="226.6" x2="456.1" y2="226.6" stroke="#b4b4ff" stroke-width="1.3"/>
<path d="M287.43 349.2v-2M287.43 204.4v2M294.86 349.2v-2M294.86 204.4v2M302.3 349.2v-2M302.3 204.4v2M309.73 349.2v-2M309.73 204.4v2M317.16 349.2v-3.5M317.16 204.4v3.5M324.59 349.2v-2M324.59 204.4v2M332.02 349.2v-2M332.02 204.4v2M339.46 349.2v-2M339.46 204.4v2M346.89 349.2v-2M346.89 204.4v2M354.32 349.2v-3.5M354.32 204.4v3.5M361.75 349.2v-2M361.75 204.4v2M369.18 349.2v-2M369.18 204.4v2M376.62 349.2v-2M376.62 204.4v2M384.05 349.2v-2M384.05 204.4v2M391.48 349.2v-3.5M391.48 204.4v3.5M398.91 349.2v-2M398.91 204.4v2M406.34 349.2v-2M406.34 204.4v2M413.78 349.2v-2M413.78 204.4v2M421.21 349.2v-2M421.21 204.4v2M428.64 349.2v-3.5M428.64 204.4v3.5M436.07 349.2v-2M436.07 204.4v2M443.5 349.2v-2M443.5 204.4v2M450.94 349.2v-2M450.94 204.4v2M458.37 349.2v-2M458.37 204.4v2M280 337.13h2M465.8 337.13h-2M280 325.07h2M465.8 325.07h-2M280 313h2M465.8 313h-2M280 300.93h3.5M465.8 300.93h-3.5M280 288.87h2M465.8 288.87h-2M280 276.8h2M465.8 276.8h-2M280 264.73h2M465.8 264.73h-2M280 252.67h3.5M465.8 252.67h-3.5M280 240.6h2M465.8 240.6h-2M280 228.53h2M465.8 228.53h-2M280 216.47h2M465.8 216.47h-2" stroke="#383838" stroke-width="1" fill="none"/>
<rect x="280" y="204.4" width="185.8" height="144.8" fill="none" stroke="#383838" stroke-width="1.3"/>
<text transform="translate(281 360.8) scale(0.88 1)" font-family='"Liberation Sans", sans-serif' font-size="8.4" text-anchor="middle" fill="#1a1a1a" stroke="#1a1a1a" stroke-width="0.2">0</text>
<text transform="translate(318.16 360.8) scale(0.88 1)" font-family='"Liberation Sans", sans-serif' font-size="8.4" text-anchor="middle" fill="#1a1a1a" stroke="#1a1a1a" stroke-width="0.2">50</text>
<text transform="translate(355.32 360.8) scale(0.88 1)" font-family='"Liberation Sans", sans-serif' font-size="8.4" text-anchor="middle" fill="#1a1a1a" stroke="#1a1a1a" stroke-width="0.2">100</text>
<text transform="translate(392.48 360.8) scale(0.88 1)" font-family='"Liberation Sans", sans-serif' font-size="8.4" text-anchor="middle" fill="#1a1a1a" stroke="#1a1a1a" stroke-width="0.2">150</text>
<text transform="translate(429.64 360.8) scale(0.88 1)" font-family='"Liberation Sans", sans-serif' font-size="8.4" text-anchor="middle" fill="#1a1a1a" stroke="#1a1a1a" stroke-width="0.2">200</text>
<text transform="translate(466.8 360.8) scale(0.88 1)" font-family='"Liberation Sans", sans-serif' font-size="8.4" text-anchor="middle" fill="#1a1a1a" stroke="#1a1a1a" stroke-width="0.2">250</text>
<text transform="translate(274.8 352.9) scale(0.88 1)" font-family='"Liberation Sans", sans-serif' font-size="8.4" text-anchor="end" fill="#1a1a1a" stroke="#1a1a1a" stroke-width="0.2">0</text>
<text transform="translate(274.8 304.63) scale(0.88 1)" font-family='"Liberation Sans", sans-serif' font-size="8.4" text-anchor="end" fill="#1a1a1a" stroke="#1a1a1a" stroke-width="0.2">50</text>
<text transform="translate(274.8 256.37) scale(0.88 1)" font-family='"Liberation Sans", sans-serif' font-size="8.4" text-anchor="end" fill="#1a1a1a" stroke="#1a1a1a" stroke-width="0.2">100</text>
<text transform="translate(274.8 208.1) scale(0.88 1)" font-family='"Liberation Sans", sans-serif' font-size="8.4" text-anchor="end" fill="#1a1a1a" stroke="#1a1a1a" stroke-width="0.2">150</text>
<text transform="translate(262 277.2) rotate(-90)" font-family='"Liberation Sans", sans-serif' font-size="8.2" text-anchor="middle" fill="#1a1a1a" stroke="#1a1a1a" stroke-width="0.2">Cross Section (mbarns)</text>
<text x="372.7" y="368.7" font-family='"Liberation Sans", sans-serif' font-size="8.2" text-anchor="middle" fill="#1a1a1a" stroke="#1a1a1a" stroke-width="0.2">Incident Energy (MeV)</text>
</svg>
</body></html>
